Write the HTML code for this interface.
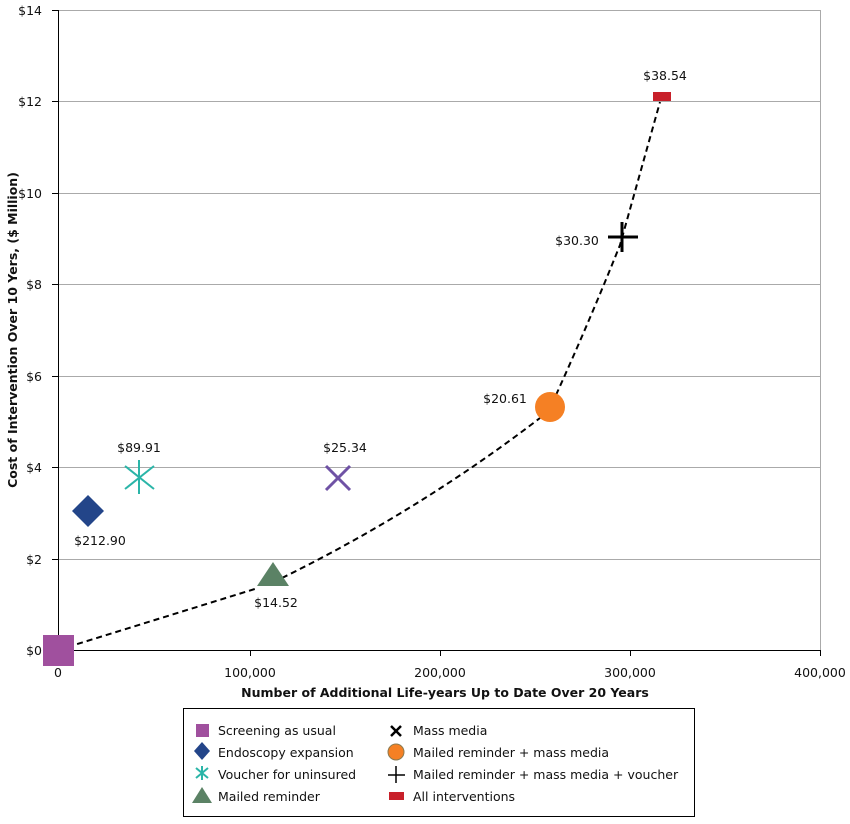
<!DOCTYPE html>
<html><head><meta charset="utf-8"><style>
body{margin:0;background:#fff;}
svg text{font-family:"DejaVu Sans","Liberation Sans",sans-serif;font-size:12.5px;fill:#111;}
</style></head><body>
<svg width="850" height="819" viewBox="0 0 850 819" xmlns="http://www.w3.org/2000/svg">
<g stroke="#aaa" stroke-width="1">
<line x1="58" y1="10.5" x2="820" y2="10.5"/>
<line x1="58" y1="101.5" x2="820" y2="101.5"/>
<line x1="58" y1="193.5" x2="820" y2="193.5"/>
<line x1="58" y1="284.5" x2="820" y2="284.5"/>
<line x1="58" y1="376.5" x2="820" y2="376.5"/>
<line x1="58" y1="467.5" x2="820" y2="467.5"/>
<line x1="58" y1="559.5" x2="820" y2="559.5"/>
<line x1="820.5" y1="10" x2="820.5" y2="650"/>
</g>
<g stroke="#000" stroke-width="1">
<line x1="58.5" y1="10" x2="58.5" y2="650"/>
<line x1="52" y1="650.5" x2="820" y2="650.5"/>
<line x1="52" y1="10.5" x2="58" y2="10.5"/><line x1="52" y1="101.5" x2="58" y2="101.5"/><line x1="52" y1="193.5" x2="58" y2="193.5"/><line x1="52" y1="284.5" x2="58" y2="284.5"/><line x1="52" y1="376.5" x2="58" y2="376.5"/><line x1="52" y1="467.5" x2="58" y2="467.5"/><line x1="52" y1="559.5" x2="58" y2="559.5"/>
<line x1="250.5" y1="650" x2="250.5" y2="656"/><line x1="440.5" y1="650" x2="440.5" y2="656"/><line x1="630.5" y1="650" x2="630.5" y2="656"/><line x1="820.5" y1="650" x2="820.5" y2="656"/>
</g>
<g text-anchor="end">
<text x="42" y="15">$14</text><text x="42" y="106">$12</text><text x="42" y="198">$10</text><text x="42" y="289">$8</text><text x="42" y="381">$6</text><text x="42" y="472">$4</text><text x="42" y="564">$2</text><text x="42" y="655">$0</text>
</g>
<g text-anchor="middle">
<text x="58" y="677">0</text><text x="250" y="677">100,000</text><text x="440" y="677">200,000</text><text x="630" y="677">300,000</text><text x="820" y="677">400,000</text>
<text x="445" y="697" font-weight="bold">Number of Additional Life-years Up to Date Over 20 Years</text>
<text transform="translate(17,330) rotate(-90)" font-weight="bold">Cost of Intervention Over 10 Yers, ($ Million)</text>
</g>
<path d="M58,650 L258,588 M282,578 Q420,510 540,418 M556,395 Q590,320 620,245 L660,102" fill="none" stroke="#000" stroke-width="2" stroke-dasharray="6,4"/>
<rect x="43" y="635" width="31" height="31" fill="#a0509e"/>
<polygon points="88,495 104,511 88,527 72,511" fill="#234589"/>
<g stroke="#2bb5a8" stroke-width="2"><line x1="139" y1="460" x2="139" y2="494"/><line x1="125" y1="466" x2="154" y2="489"/><line x1="125" y1="489" x2="154" y2="466"/></g>
<polygon points="273,562 289,586 257,586" fill="#5b8265"/>
<g stroke="#6f52a5" stroke-width="3"><line x1="326" y1="466" x2="350" y2="490"/><line x1="326" y1="490" x2="350" y2="466"/></g>
<circle cx="550" cy="407" r="15" fill="#f58024"/>
<g stroke="#000" stroke-width="3"><line x1="608" y1="237" x2="638" y2="237"/><line x1="622" y1="222" x2="622" y2="252"/></g>
<rect x="653" y="92" width="18" height="9" fill="#c8202a"/>
<text x="139" y="452" text-anchor="middle">$89.91</text>
<text x="345" y="452" text-anchor="middle">$25.34</text>
<text x="100" y="545" text-anchor="middle">$212.90</text>
<text x="276" y="607" text-anchor="middle">$14.52</text>
<text x="505" y="403" text-anchor="middle">$20.61</text>
<text x="577" y="245" text-anchor="middle">$30.30</text>
<text x="665" y="80" text-anchor="middle">$38.54</text>
<rect x="183.5" y="708.5" width="511" height="108" fill="none" stroke="#000"/>
<rect x="196" y="724" width="13" height="13" fill="#a0509e"/>
<polygon points="202,742 210,751 202,760 194,751" fill="#234589"/>
<g stroke="#2bb5a8" stroke-width="2"><line x1="202" y1="766" x2="202" y2="780"/><line x1="196" y1="768" x2="208" y2="778"/><line x1="196" y1="778" x2="208" y2="768"/></g>
<polygon points="202,787 212,803 192,803" fill="#5b8265"/>
<g stroke="#000" stroke-width="2.5"><line x1="391" y1="726" x2="401" y2="736"/><line x1="391" y1="736" x2="401" y2="726"/></g>
<circle cx="396" cy="752" r="8" fill="#f58024" stroke="#8a7a50" stroke-width="1"/>
<g stroke="#000" stroke-width="1.5"><line x1="388" y1="775" x2="405" y2="775"/><line x1="396" y1="766" x2="396" y2="783"/></g>
<rect x="389" y="792" width="15" height="8" fill="#c8202a"/>
<text x="218" y="735">Screening as usual</text>
<text x="218" y="757">Endoscopy expansion</text>
<text x="218" y="779">Voucher for uninsured</text>
<text x="218" y="801">Mailed reminder</text>
<text x="413" y="735">Mass media</text>
<text x="413" y="757">Mailed reminder + mass media</text>
<text x="413" y="779">Mailed reminder + mass media + voucher</text>
<text x="413" y="801">All interventions</text>
</svg>
</body></html>
